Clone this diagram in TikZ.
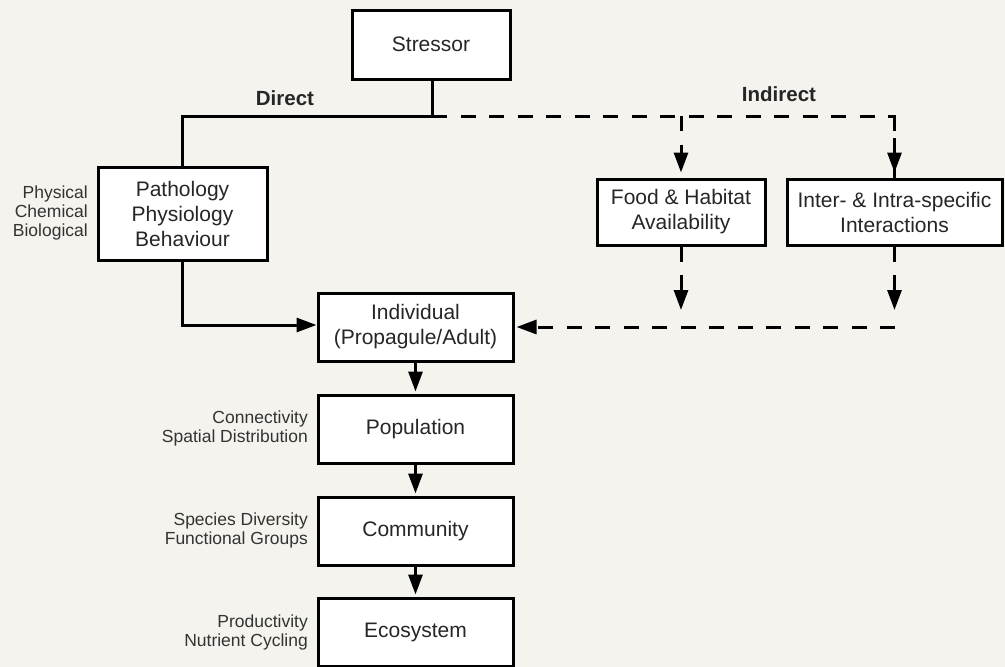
\documentclass[tikz,border=0pt]{standalone}
\usepackage{fontspec}
\setmainfont{Liberation Sans}
\usepackage{tikz}
\usetikzlibrary{positioning,arrows.meta}
\definecolor{paper}{HTML}{F4F3EE}
\definecolor{ink}{HTML}{262626}
\definecolor{note}{HTML}{333333}
\tikzset{
  box/.style={draw, fill=white, line width=3pt, inner sep=0pt, align=center,
    text=ink, font=\fontsize{21}{25}\selectfont},
  side/.style={anchor=east, align=right, inner sep=0pt, text=note,
    font=\fontsize{17.5}{19}\selectfont},
  effect/.style={anchor=center, inner sep=0pt, text=ink, font=\fontsize{20.5}{24}\selectfont\bfseries},
  conn/.style={line width=3pt},
  dsh/.style={line width=3pt, dash pattern=on 15pt off 13.5pt},
  arr/.style={-{Triangle[length=20pt,width=14pt]}}
}

\begin{document}
\begin{tikzpicture}[x=1pt,y=-1pt]
\useasboundingbox (0,0) rectangle (1005,667);
\fill[paper] (0,0) rectangle (1005,667);

%boxes
\draw(431,44.5) node[box,minimum width=158pt,minimum height=69pt] (stressor) {Stressor};
\draw(182.5,213.5) node[box,minimum width=169pt,minimum height=93pt] (patho) {Pathology\\Physiology\\Behaviour};
\draw(681,212) node[box,minimum width=168pt,minimum height=66pt] (food) {Food \& Habitat\\Availability};
\draw(894.5,212) node[box,minimum width=215pt,minimum height=66pt] (inter) {Inter- \& Intra-specific\\Interactions};
\draw(415.5,327) node[box,minimum width=195pt,minimum height=68pt] (indiv) {Individual\\(Propagule/Adult)};
\draw(415.5,429) node[box,minimum width=195pt,minimum height=68pt] (popul) {Population};
\draw(415.5,531) node[box,minimum width=195pt,minimum height=68pt] (commun) {Community};
\draw(415.5,632) node[box,minimum width=195pt,minimum height=68pt] (ecosys) {Ecosystem};

%side notes
\draw(88,213) node[side] (pcb) {Physical\\Chemical\\Biological};
\draw(308,428) node[side] (connect) {Connectivity\\Spatial Distribution};
\draw(308,530) node[side] (divers) {Species Diversity\\Functional Groups};
\draw(308,632) node[side] (product) {Productivity\\Nutrient Cycling};

\draw(285,98) node[effect] (direct) {Direct};
\draw(779,94) node[effect] (indirect) {Indirect};

\coordinate (split) at (432,116);
\coordinate (gather) at (895,327);

%direct
\draw[conn] (stressor.south -| split) -- (split) -| (patho.north);
\draw[conn,arr] (patho.south) |- ([yshift=2pt]indiv.west);

%indirect
\draw[dsh] (split) -| (inter.north);
\draw[dsh,arr,shorten >=5pt] (split -| food.north) -- (food.north);
\draw[dsh,arr,shorten >=5pt] (split -| inter.north) -- (inter.north);
\draw[dsh,arr,shorten >=17pt] (food.south) -- (food.south |- gather);
\draw[dsh,arr,shorten >=17pt] (inter.south) -- (inter.south |- gather);
\draw[dsh,arr,shorten >=2pt] (gather) -- (indiv.east);

%levels
\foreach \a/\b in {indiv/popul,popul/commun,commun/ecosys}
  \draw[conn,arr,shorten >=2pt] (\a.south) -- (\b.north);
\end{tikzpicture}
\end{document}
